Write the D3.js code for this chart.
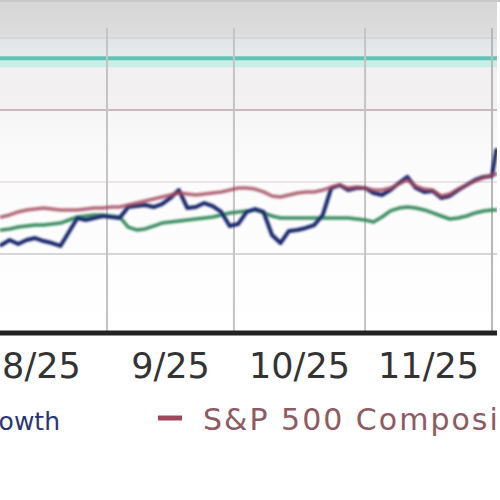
<!DOCTYPE html>
<html><head><meta charset="utf-8">
<script src="https://cdn.jsdelivr.net/npm/d3@7"></script>
<style>html,body{margin:0;padding:0;background:#fff;}svg{display:block;}</style>
</head><body>
<svg id="c" width="500" height="500"></svg>
<script>
// ---- data (cumulative % return) ----
const dates = ["2025-08-07","2025-08-09","2025-08-11","2025-08-13","2025-08-15","2025-08-17","2025-08-19","2025-08-21","2025-08-23","2025-08-25","2025-08-27","2025-08-29","2025-08-31",
"2025-09-02","2025-09-04","2025-09-06","2025-09-08","2025-09-10","2025-09-12","2025-09-14","2025-09-16","2025-09-18","2025-09-20","2025-09-22","2025-09-24","2025-09-26","2025-09-28","2025-09-30",
"2025-10-02","2025-10-04","2025-10-06","2025-10-08","2025-10-10","2025-10-12","2025-10-14","2025-10-16","2025-10-18","2025-10-20","2025-10-22","2025-10-24","2025-10-26","2025-10-28","2025-10-30",
"2025-11-01","2025-11-03","2025-11-05","2025-11-07","2025-11-09","2025-11-11","2025-11-13","2025-11-15","2025-11-17","2025-11-19","2025-11-21","2025-11-23","2025-11-25","2025-11-27","2025-11-29",
"2025-12-01","2025-12-02"];
const fundGrowth = [-4.38,-4.03,-4.31,-4.03,-3.89,-4.10,-4.24,-4.44,-3.47,-2.50,-2.64,-2.50,-2.36,
-2.43,-2.50,-1.74,-1.67,-1.60,-1.74,-1.53,-1.11,-0.56,-1.81,-1.74,-1.46,-1.67,-2.08,-3.06,
-2.92,-2.08,-1.88,-2.08,-3.68,-4.24,-3.40,-3.33,-3.19,-2.99,-2.29,-0.42,-0.21,-0.56,-0.42,
-0.42,-0.76,-0.90,-0.56,-0.07,0.35,-0.42,-0.69,-0.63,-1.11,-0.97,-0.56,-0.21,0.14,0.35,
0.42,2.22];
const sp500 = [-2.43,-2.29,-2.08,-1.94,-1.88,-1.81,-1.88,-1.94,-1.94,-1.94,-1.88,-1.81,-1.81,
-1.74,-1.74,-1.60,-1.46,-1.32,-1.18,-1.04,-0.90,-0.76,-0.83,-0.90,-0.83,-0.76,-0.69,-0.56,
-0.42,-0.42,-0.49,-0.69,-0.97,-1.04,-0.90,-0.76,-0.69,-0.69,-0.56,-0.35,-0.21,-0.42,-0.35,
-0.42,-0.56,-0.56,-0.42,-0.14,0.14,-0.28,-0.49,-0.56,-0.97,-0.83,-0.49,-0.21,0.07,0.28,
0.49,0.56];
const categoryAvg = [-3.33,-3.26,-3.13,-3.06,-2.99,-2.99,-2.92,-2.85,-2.64,-2.43,-2.36,-2.29,-2.29,
-2.36,-2.43,-3.13,-3.33,-3.26,-3.06,-2.85,-2.78,-2.71,-2.64,-2.57,-2.50,-2.43,-2.29,-2.15,
-2.08,-2.01,-1.94,-2.15,-2.36,-2.50,-2.50,-2.50,-2.50,-2.50,-2.50,-2.50,-2.50,-2.50,-2.57,
-2.64,-2.78,-2.43,-2.01,-1.81,-1.74,-1.81,-1.94,-2.15,-2.36,-2.57,-2.50,-2.36,-2.15,-2.01,
-1.94,-1.94];
const referenceLevel = 8.6;
const yGridValues = [-5, 0, 5, 10];
const monthTicks = ["2025-09-01","2025-10-01","2025-11-01","2025-12-01"];
const monthLabels = ["8/25","9/25","10/25","11/25"];
const legendNames = ["Growth","S&P 500 Composite"];

// ---- drawing ----
const svg = d3.select("#c");
const parse = d3.timeParse("%Y-%m-%d");
const W = 497, H = 333;
const x = d3.scaleTime().domain([parse("2025-09-01"), parse("2025-12-01")]).range([107, 492]);
const y = d3.scaleLinear().domain([-10, 10]).range([326, 38]);

const defs = svg.append("defs");
const bg = defs.append("linearGradient").attr("id","bg").attr("x1",0).attr("y1",0).attr("x2",0).attr("y2",1);
[[0,"#d6d6d6"],[0.1,"#dcdcdc"],[0.12,"#e2e5e8"],[0.16,"#e6eaec"],[0.2,"#f1efef"],[0.33,"#f4f1f2"],[0.34,"#f7f6f6"],[0.5,"#fbfbfb"],[1,"#ffffff"]]
  .forEach(s => bg.append("stop").attr("offset", s[0]).attr("stop-color", s[1]));
defs.append("clipPath").attr("id","clip").append("rect").attr("x",0).attr("y",0).attr("width",W).attr("height",H);
const blur = defs.append("filter").attr("id","soft").attr("x","-5%").attr("y","-5%").attr("width","110%").attr("height","110%");
blur.append("feGaussianBlur").attr("stdDeviation", 0.9);

svg.append("rect").attr("x",0).attr("y",0).attr("width",W).attr("height",H).attr("fill","url(#bg)");
svg.append("rect").attr("x",0).attr("y",0).attr("width",500).attr("height",2).attr("fill","#c9c9c9");

const g = svg.append("g").attr("clip-path","url(#clip)");
// horizontal gridlines
const gridCol = {"-5":"#d6d6d6","0":"#ebe3e4","5":"#cdb8bf","10":"#d4d6d8"};
g.selectAll("line.hg").data(yGridValues).join("line").attr("class","hg")
  .attr("x1",0).attr("x2",W).attr("y1",d=>y(d)).attr("y2",d=>y(d))
  .attr("stroke",d=>gridCol[d]).attr("stroke-width",2);
// reference level (teal)
g.append("rect").attr("x",0).attr("width",W).attr("y",y(referenceLevel)+1).attr("height",8).attr("fill","#c6efe8");
g.append("line").attr("x1",0).attr("x2",W).attr("y1",y(referenceLevel)).attr("y2",y(referenceLevel))
  .attr("stroke","#62c3b3").attr("stroke-width",4);
// vertical gridlines
g.selectAll("line.vg").data(monthTicks.map(parse)).join("line").attr("class","vg")
  .attr("x1",d=>x(d)).attr("x2",d=>x(d)).attr("y1",28).attr("y2",H)
  .attr("stroke",(d,i)=> i===3 ? "#b8b8b8" : "#c4c4c4").attr("stroke-width",2);

const pts = dates.map(parse);
const line = vals => d3.line().x((d,i)=>x(pts[i])).y(d=>y(d)).curve(d3.curveLinear)(vals);
const lg = g.append("g").attr("filter","url(#soft)").attr("fill","none").attr("stroke-linejoin","round").attr("stroke-linecap","round");
lg.append("path").attr("d", line(categoryAvg)).attr("stroke","#3d8e64").attr("stroke-width",3.5);
lg.append("path").attr("d", line(fundGrowth)).attr("stroke","#1b2a6e").attr("stroke-width",4);
lg.append("path").attr("d", line(sp500)).attr("stroke","#a0465a").attr("stroke-width",3.5).attr("stroke-opacity",0.8);

// bottom axis line
svg.append("line").attr("x1",0).attr("x2",W).attr("y1",H).attr("y2",H).attr("stroke","#222").attr("stroke-width",5);
// month labels centered between ticks
const mids = monthTicks.map((t,i)=>{ const d = parse(t); const prev = d3.timeMonth.offset(d,-1); return new Date((+d + +prev)/2); });
svg.selectAll("text.ml").data(monthLabels).join("text").attr("class","ml")
  .attr("x",(d,i)=>x(mids[i])).attr("y",378).attr("text-anchor","middle")
  .attr("font-family","DejaVu Sans, Verdana, sans-serif").attr("font-size",35).attr("fill","#333")
  .text(d=>d);

// legend
svg.append("text").attr("x",60).attr("y",430).attr("text-anchor","end")
  .attr("font-family","DejaVu Sans, Verdana, sans-serif").attr("font-size",25)
  .attr("fill","#2a3576").text(legendNames[0]);
svg.append("line").attr("x1",158).attr("x2",182).attr("y1",418).attr("y2",418).attr("stroke","#a0465a").attr("stroke-width",5);
svg.append("text").attr("x",203).attr("y",430)
  .attr("font-family","DejaVu Sans, Verdana, sans-serif").attr("font-size",30).attr("letter-spacing",2)
  .attr("fill","#8e5a64").text(legendNames[1]);
</script>
</body></html>
